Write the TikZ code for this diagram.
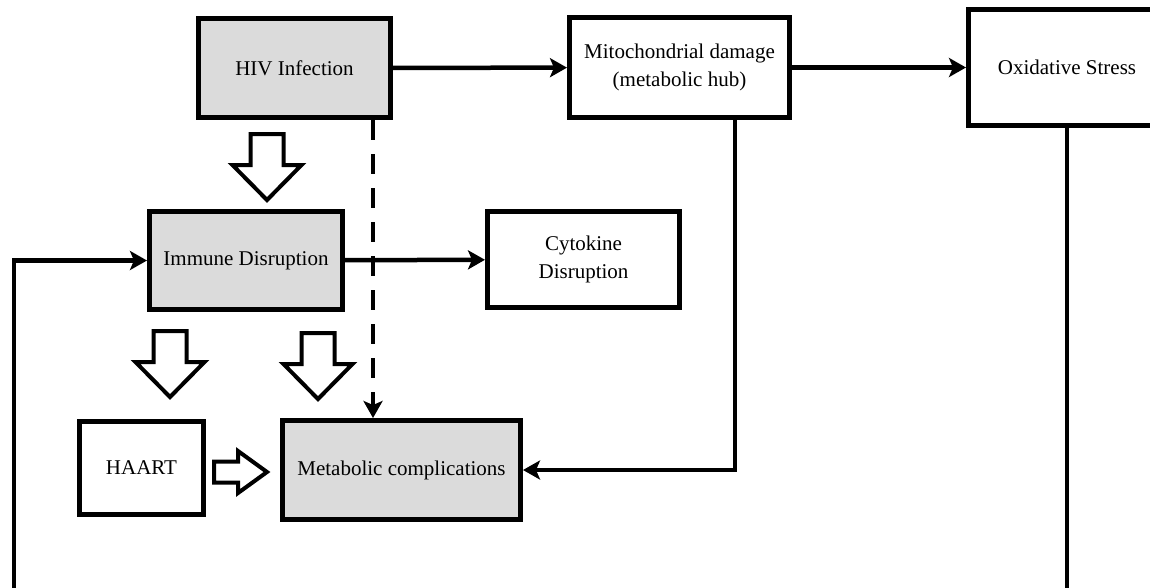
\documentclass[tikz,border=0pt]{standalone}
\usepackage{fontspec}
\setmainfont{Liberation Serif}
\usetikzlibrary{arrows.meta,shadows}

\begin{document}
\begin{tikzpicture}[x=1pt, y=-1pt, line width=4.5pt,
  box/.style={draw, line width=5pt, align=center, inner sep=0pt,
    font=\fontsize{21}{28}\selectfont,
    drop shadow={shadow xshift=1pt, shadow yshift=-2.5pt, opacity=1, fill=black}},
  greybox/.style={box, fill=black!14},
  whitebox/.style={box, fill=white},
  link/.style={-{Stealth[length=17pt,width=19pt,inset=4pt]}},
  dashlink/.style={link, dash pattern=on 20pt off 14pt},
  fatarrow/.style={draw, line width=4pt, fill=white, line join=miter},
  downfat/.pic={\draw[fatarrow] (-16.5,0) -- (16.5,0) -- (16.5,31) -- (34.5,31)
    -- (0,66) -- (-34.5,31) -- (-16.5,31) -- cycle;},
  rightfat/.pic={\draw[fatarrow] (0,-10.5) -- (24,-10.5) -- (24,-21) -- (53,0)
    -- (24,21) -- (24,10.5) -- (0,10.5) -- cycle;}]
\useasboundingbox (0,0) rectangle (1150,587);
\clip (0,0) rectangle (1150,587);

% --- Top row ---
\node[greybox, minimum width=192pt, minimum height=99pt] (hiv) at (294.5,68) {HIV Infection};
\node[whitebox, minimum width=220pt, minimum height=100pt] (mito) at (679.5,67.5) {Mitochondrial damage\\(metabolic hub)};
\node[whitebox, minimum width=197pt, minimum height=116pt] (oxi) at (1067,67.5) {Oxidative Stress};

% --- Middle row ---
\node[greybox, minimum width=193pt, minimum height=98pt] (immune) at (246,260.5) {Immune Disruption};
\node[whitebox, minimum width=192pt, minimum height=96pt] (cyto) at (583.5,259.5) {Cytokine\\Disruption};

% --- Bottom row ---
\node[whitebox, minimum width=124pt, minimum height=93pt] (haart) at (141.5,468) {HAART};
\node[greybox, minimum width=238pt, minimum height=99pt] (meta) at (401.5,470) {Metabolic complications};

% free ends and bends
\coordinate (dsh) at (373,0);
\coordinate (mbend) at (735,0);
\coordinate (lbot) at (14,595);
\coordinate (bot) at (0,595);

% --- Connectors ---
\draw[link] (hiv) -- (mito);
\draw[link] (mito) -- (oxi);
\draw[link] (immune) -- (cyto);
\draw[dashlink] (hiv.south -| dsh) -- (meta.north -| dsh);
\draw[link] (mito.south -| mbend) |- (meta.east);
\draw[link] (lbot) |- (immune.west);
\draw (oxi.south) -- (oxi.south |- bot);

% --- Hollow arrows ---
\pic at (267,134) {downfat};
\pic at (170,331) {downfat};
\pic at (318,333) {downfat};
\pic at (214,472) {rightfat};
\end{tikzpicture}
\end{document}
